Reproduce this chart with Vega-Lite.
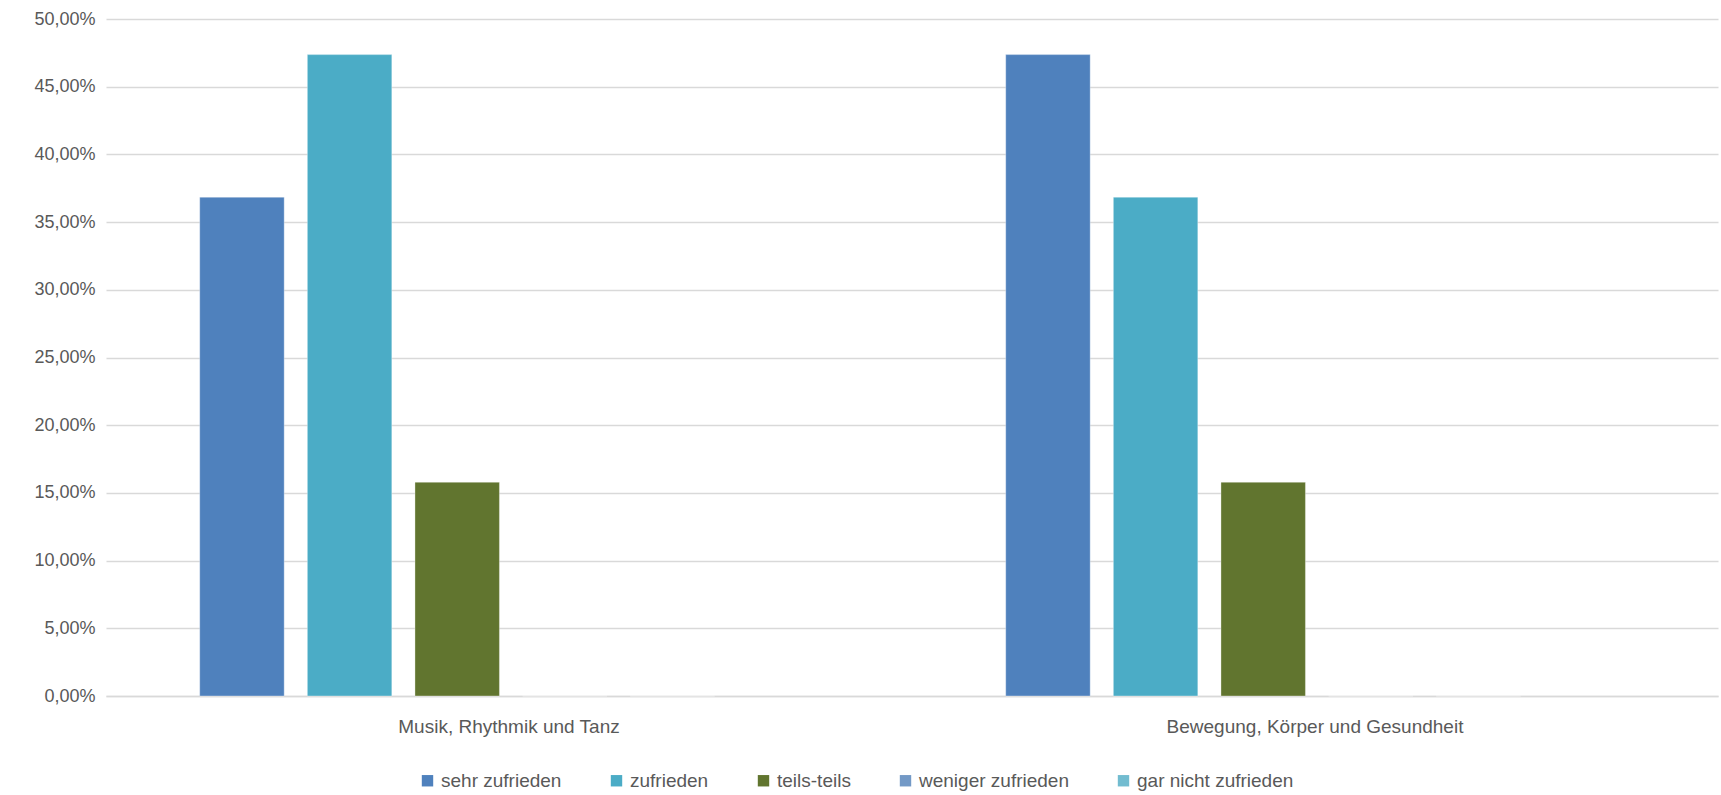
{
  "$schema": "https://vega.github.io/schema/vega-lite/v6.json",
  "width": 1612,
  "height": 677,
  "autosize": {"type": "none"},
  "padding": {"left": 106, "top": 19, "right": 3, "bottom": 99},
  "background": "#ffffff",
  "config": {
    "locale": {"number": {"decimal": ",", "thousands": ".", "grouping": [3], "currency": ["", " €"]}},
    "view": {"stroke": null},
    "font": "Liberation Sans"
  },
  "data": {
    "values": [
      {"bereich": "Musik, Rhythmik und Tanz", "bewertung": "sehr zufrieden", "anteil": 0.3684},
      {"bereich": "Musik, Rhythmik und Tanz", "bewertung": "zufrieden", "anteil": 0.4737},
      {"bereich": "Musik, Rhythmik und Tanz", "bewertung": "teils-teils", "anteil": 0.1579},
      {"bereich": "Musik, Rhythmik und Tanz", "bewertung": "weniger zufrieden", "anteil": 0},
      {"bereich": "Musik, Rhythmik und Tanz", "bewertung": "gar nicht zufrieden", "anteil": 0},
      {"bereich": "Bewegung, Körper und Gesundheit", "bewertung": "sehr zufrieden", "anteil": 0.4737},
      {"bereich": "Bewegung, Körper und Gesundheit", "bewertung": "zufrieden", "anteil": 0.3684},
      {"bereich": "Bewegung, Körper und Gesundheit", "bewertung": "teils-teils", "anteil": 0.1579},
      {"bereich": "Bewegung, Körper und Gesundheit", "bewertung": "weniger zufrieden", "anteil": 0},
      {"bereich": "Bewegung, Körper und Gesundheit", "bewertung": "gar nicht zufrieden", "anteil": 0}
    ]
  },
  "mark": {"type": "bar", "stroke": "#ffffff", "strokeOpacity": 0.35, "strokeWidth": 1},
  "encoding": {
    "x": {
      "field": "bereich",
      "type": "nominal",
      "sort": ["Musik, Rhythmik und Tanz", "Bewegung, Körper und Gesundheit"],
      "scale": {"paddingInner": 0, "paddingOuter": 0},
      "axis": {
        "title": null,
        "labelAngle": 0,
        "labelFontSize": 19,
        "labelLimit": 0,
        "labelColor": "#595959",
        "labelPadding": 21,
        "ticks": false,
        "domain": true,
        "domainColor": "#D9D9D9",
        "domainWidth": 1.5,
        "grid": false
      }
    },
    "xOffset": {
      "field": "bewertung",
      "type": "nominal",
      "scale": {
        "domain": ["sehr zufrieden", "zufrieden", "teils-teils", "weniger zufrieden", "gar nicht zufrieden", " "],
        "paddingInner": 0.215,
        "paddingOuter": 0.852,
        "align": 0.511
      }
    },
    "y": {
      "field": "anteil",
      "type": "quantitative",
      "scale": {"domain": [0, 0.5], "nice": false},
      "axis": {
        "title": null,
        "format": ".2%",
        "values": [0, 0.05, 0.1, 0.15, 0.2, 0.25, 0.3, 0.35, 0.4, 0.45, 0.5],
        "labelFontSize": 18,
        "labelColor": "#595959",
        "labelPadding": 11,
        "ticks": false,
        "domain": false,
        "gridColor": "#D9D9D9",
        "gridWidth": 1.5
      }
    },
    "color": {
      "field": "bewertung",
      "type": "nominal",
      "scale": {
        "domain": ["sehr zufrieden", "zufrieden", "teils-teils", "weniger zufrieden", "gar nicht zufrieden"],
        "range": ["#4F81BD", "#4BACC6", "#61752F", "#7399C6", "#72BCD0"]
      },
      "legend": {
        "title": null,
        "orient": "none",
        "direction": "horizontal",
        "legendX": 312,
        "legendY": 752,
        "symbolType": "square",
        "symbolSize": 130,
        "symbolStrokeWidth": 0,
        "labelFontSize": 19,
        "labelColor": "#595959",
        "labelOffset": 4,
        "columnPadding": 45,
        "columns": 5
      }
    }
  }
}
